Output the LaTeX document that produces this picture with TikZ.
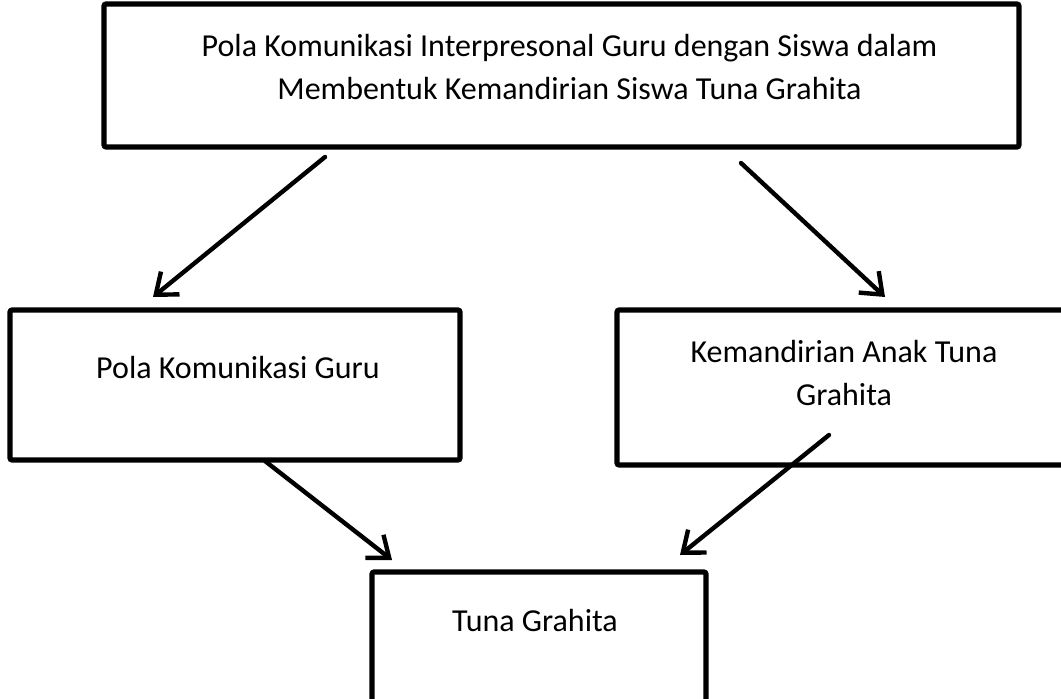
\documentclass[tikz,border=0pt]{standalone}
\usepackage{fontspec}
\setmainfont{Carlito}
\usetikzlibrary{arrows.meta, positioning, calc}

\begin{document}
\begin{tikzpicture}[
    x=0.75pt, y=-0.75pt,
    box/.style={rectangle, rounded corners=1.5pt, draw=black, line width=3.8pt, anchor=north west, inner sep=0pt, outer sep=0pt},
    lbl/.style={align=center, font=\fontsize{24}{32.25}\selectfont, inner sep=0pt},
    arrow/.style={line width=3.3pt, line cap=round, -{Straight Barb[length=14pt, width=22pt]}}
]
    \clip (0,0) rectangle (1061,699);
    \node[box, minimum width=686.25pt, minimum height=107.25pt] (top) at (104,4) {};
    \node[box, minimum width=337.5pt, minimum height=112.5pt] (left) at (10,310) {};
    \node[box, minimum width=340.5pt, minimum height=116.25pt] (right) at (617,310) {};
    \node[box, minimum width=250.5pt, minimum height=126pt] (bottom) at (372,572) {};
    % texts
    \node[lbl] (toptext) at ($(top.north)+(8,63)$) {Pola Komunikasi Interpresonal Guru dengan Siswa dalam\\Membentuk Kemandirian Siswa Tuna Grahita};
    \node[lbl] (lefttext) at ($(left.north)+(3,58)$) {Pola Komunikasi Guru};
    \node[lbl] (righttext) at ($(right.north)+(0,63)$) {Kemandirian Anak Tuna\\Grahita};
    \node[lbl] (bottomtext) at ($(bottom.north)+(-4,49)$) {Tuna Grahita};
    % arrows
    \draw[arrow] ($(top.south west)+(221,10)$) -- ($(left.north west)+(143,-13)$);
    \draw[arrow] ($(top.south west)+(637,16)$) -- ($(right.north west)+(268,-13)$);
    \draw[arrow] ($(left.south west)+(255,1)$) -- ($(bottom.north west)+(20,-12)$);
    \draw[arrow] ($(right.south west)+(212,-30)$) -- ($(bottom.north east)+(-26,-17)$);
\end{tikzpicture}
\end{document}
